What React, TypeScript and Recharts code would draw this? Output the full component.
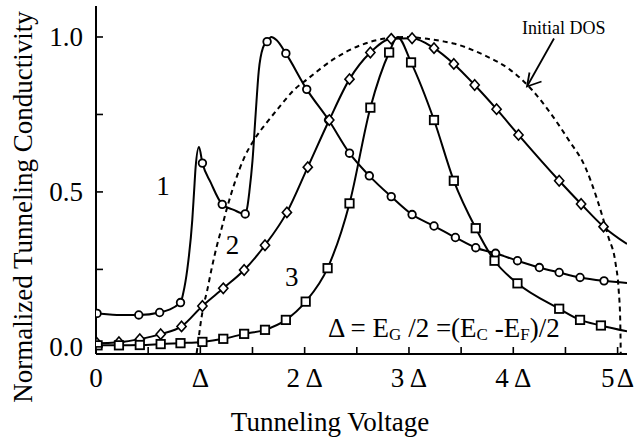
import React from 'react';
import { ComposedChart, Line, Scatter, XAxis, YAxis } from 'recharts';

// ---------- axis ticks ----------
const xTicks = [0, 0.5, 1, 1.5, 2, 2.5, 3, 3.5, 4, 4.5, 5];
const xMajorTicks = [0, 1, 2, 3, 4, 5];
const xMajorLabels = ['0', '\u0394', '2\u2009\u0394', '3\u2009\u0394', '4\u2009\u0394', '5\u200A\u0394'];
const yTicks = [0, 0.25, 0.5, 0.75, 1];
const yMajorTicks = [0, 0.5, 1];
const yMajorLabels = ['0.0', '0.5', '1.0'];

// ---------- curve 1 (circles) ----------
const curve1Markers = [
  { x: 0.01, y: 0.108 }, { x: 0.41, y: 0.103 }, { x: 0.61, y: 0.111 }, { x: 0.81, y: 0.143 },
  { x: 1.02, y: 0.593 }, { x: 1.21, y: 0.46 }, { x: 1.43, y: 0.429 }, { x: 1.64, y: 0.985 },
  { x: 1.82, y: 0.947 }, { x: 2.02, y: 0.831 }, { x: 2.23, y: 0.732 }, { x: 2.43, y: 0.625 },
  { x: 2.62, y: 0.552 }, { x: 2.83, y: 0.485 }, { x: 3.03, y: 0.427 }, { x: 3.24, y: 0.39 },
  { x: 3.445, y: 0.353 }, { x: 3.64, y: 0.32 }, { x: 3.83, y: 0.302 }, { x: 4.04, y: 0.278 },
  { x: 4.25, y: 0.256 }, { x: 4.44, y: 0.24 }, { x: 4.64, y: 0.224 }, { x: 4.87, y: 0.213 },
];
const curve1Extra = [
  { x: 0, y: 0.108 }, { x: 0.2, y: 0.103 }, { x: 0.836, y: 0.173 }, { x: 0.875, y: 0.25 },
  { x: 0.923, y: 0.41 }, { x: 0.94, y: 0.5 }, { x: 0.955, y: 0.58 }, { x: 0.987, y: 0.645 },
  { x: 1.1, y: 0.53 }, { x: 1.32, y: 0.442 }, { x: 1.45, y: 0.45 }, { x: 1.47, y: 0.5 },
  { x: 1.5, y: 0.6 }, { x: 1.53, y: 0.75 }, { x: 1.56, y: 0.89 }, { x: 1.6, y: 0.965 },
  { x: 1.68, y: 1.0 }, { x: 1.73, y: 0.99 }, { x: 5.09, y: 0.206 },
];

// ---------- curve 2 (diamonds) ----------
const curve2Markers = [
  { x: 0.01, y: 0.012 }, { x: 0.22, y: 0.015 }, { x: 0.42, y: 0.025 }, { x: 0.62, y: 0.041 },
  { x: 0.82, y: 0.066 }, { x: 1.02, y: 0.132 }, { x: 1.22, y: 0.189 }, { x: 1.42, y: 0.248 },
  { x: 1.62, y: 0.328 }, { x: 1.83, y: 0.434 }, { x: 2.03, y: 0.58 }, { x: 2.236, y: 0.732 },
  { x: 2.43, y: 0.864 }, { x: 2.63, y: 0.95 }, { x: 2.83, y: 0.994 }, { x: 3.03, y: 0.996 },
  { x: 3.24, y: 0.964 }, { x: 3.43, y: 0.913 }, { x: 3.63, y: 0.845 }, { x: 3.84, y: 0.767 },
  { x: 4.05, y: 0.684 }, { x: 4.44, y: 0.536 }, { x: 4.65, y: 0.461 }, { x: 4.865, y: 0.388 },
];
const curve2Extra = [{ x: 0, y: 0.012 }, { x: 5.09, y: 0.332 }];

// ---------- curve 3 (squares) ----------
const curve3Markers = [
  { x: 0.015, y: 0.005 }, { x: 0.22, y: 0.005 }, { x: 0.42, y: 0.006 }, { x: 0.62, y: 0.009 },
  { x: 0.81, y: 0.012 }, { x: 1.02, y: 0.016 }, { x: 1.22, y: 0.026 }, { x: 1.42, y: 0.042 },
  { x: 1.62, y: 0.055 }, { x: 1.82, y: 0.087 }, { x: 2.01, y: 0.146 }, { x: 2.22, y: 0.254 },
  { x: 2.43, y: 0.463 }, { x: 2.63, y: 0.772 }, { x: 2.81, y: 0.95 }, { x: 3.02, y: 0.918 },
  { x: 3.24, y: 0.732 }, { x: 3.43, y: 0.536 }, { x: 3.64, y: 0.383 }, { x: 3.82, y: 0.278 },
  { x: 4.04, y: 0.205 }, { x: 4.44, y: 0.123 }, { x: 4.64, y: 0.087 }, { x: 4.84, y: 0.069 },
];
const curve3Extra = [{ x: 0, y: 0.005 }, { x: 2.89, y: 1.0 }, { x: 5.09, y: 0.05 }];

// ---------- initial DOS (dashed) ----------
const dosPoints = [
  { x: 0.965, y: -0.02 }, { x: 0.985, y: 0.03 }, { x: 1.003, y: 0.076 }, { x: 1.03, y: 0.13 },
  { x: 1.067, y: 0.184 }, { x: 1.11, y: 0.255 }, { x: 1.157, y: 0.324 }, { x: 1.21, y: 0.39 },
  { x: 1.26, y: 0.453 }, { x: 1.33, y: 0.53 }, { x: 1.42, y: 0.61 }, { x: 1.515, y: 0.668 },
  { x: 1.64, y: 0.725 }, { x: 1.772, y: 0.78 }, { x: 1.9, y: 0.83 }, { x: 2.03, y: 0.865 },
  { x: 2.285, y: 0.93 }, { x: 2.54, y: 0.974 }, { x: 2.75, y: 0.994 }, { x: 2.95, y: 1.0 },
  { x: 3.15, y: 0.995 }, { x: 3.34, y: 0.985 }, { x: 3.44, y: 0.978 }, { x: 3.63, y: 0.955 },
  { x: 3.73, y: 0.94 }, { x: 3.97, y: 0.894 }, { x: 4.18, y: 0.829 }, { x: 4.37, y: 0.748 },
  { x: 4.53, y: 0.668 }, { x: 4.69, y: 0.58 }, { x: 4.8, y: 0.48 }, { x: 4.91, y: 0.356 },
  { x: 4.98, y: 0.27 }, { x: 5.01, y: 0.184 }, { x: 5.025, y: 0.087 }, { x: 5.03, y: -0.02 },
];

const byX = (a: { x: number }, b: { x: number }) => a.x - b.x;
const curve1Line = [...curve1Markers, ...curve1Extra].sort(byX);
const curve2Line = [...curve2Markers, ...curve2Extra].sort(byX);
const curve3Line = [...curve3Markers, ...curve3Extra].sort(byX);

const FONT = "'Liberation Serif', 'DejaVu Serif', serif";
const serif = { fontFamily: FONT };
const TICK_LEN = 7;

const BottomTick = (props: any) => {
  const { x, y, payload } = props;
  const i = xMajorTicks.indexOf(payload.value);
  return (
    <g>
      <line x1={x} x2={x} y1={y} y2={y - TICK_LEN} stroke="#000" strokeWidth={1.6} />
      {i >= 0 && (
        <text x={x} y={y + 33} textAnchor="middle" style={serif} fontSize={27} fill="#000">
          {xMajorLabels[i]}
        </text>
      )}
    </g>
  );
};
const TopTick = (props: any) => {
  const { x, y } = props;
  return <line x1={x} x2={x} y1={y} y2={y + TICK_LEN} stroke="#000" strokeWidth={1.6} />;
};
const LeftTick = (props: any) => {
  const { x, y, payload } = props;
  const i = yMajorTicks.indexOf(payload.value);
  return (
    <g>
      <line x1={x} x2={x + TICK_LEN} y1={y} y2={y} stroke="#000" strokeWidth={1.6} />
      {i >= 0 && (
        <text x={x - 13} y={y + 9} textAnchor="end" style={serif} fontSize={27} fill="#000">
          {yMajorLabels[i]}
        </text>
      )}
    </g>
  );
};
const RightTick = (props: any) => {
  const { x, y } = props;
  return <line x1={x} x2={x - TICK_LEN} y1={y} y2={y} stroke="#000" strokeWidth={1.6} />;
};

const CircleDot = (p: any) =>
  p.cx == null ? null : <circle cx={p.cx} cy={p.cy} r={3.8} fill="#fff" stroke="#000" strokeWidth={1.8} />;
const SquareDot = (p: any) =>
  p.cx == null ? null : (
    <rect x={p.cx - 4.2} y={p.cy - 4.2} width={8.4} height={8.4} fill="#fff" stroke="#000" strokeWidth={1.8} />
  );
const DiamondDot = (p: any) =>
  p.cx == null ? null : (
    <path
      d={`M${p.cx},${p.cy - 5.2}L${p.cx + 4.6},${p.cy}L${p.cx},${p.cy + 5.2}L${p.cx - 4.6},${p.cy}Z`}
      fill="#fff"
      stroke="#000"
      strokeWidth={1.6}
    />
  );

const axisLine = { stroke: '#000', strokeWidth: 2 };

export default function App() {
  return (
    <div style={{ position: 'absolute', left: 0, top: 0, width: 634, height: 441, background: '#fff' }}>
      <ComposedChart width={634} height={441} margin={{ top: 6, right: 7, bottom: 0, left: 0 }}>
        <XAxis
          xAxisId="b"
          dataKey="x"
          type="number"
          orientation="bottom"
          domain={[0, 5.09]}
          ticks={xTicks}
          interval={0}
          height={87}
          tickSize={0}
          tickMargin={0}
          tickLine={false}
          axisLine={axisLine}
          tick={<BottomTick />}
          allowDataOverflow
        />
        <XAxis
          xAxisId="t"
          dataKey="x"
          type="number"
          orientation="top"
          domain={[0, 5.09]}
          ticks={xTicks}
          interval={0}
          height={0}
          tickSize={0}
          tickMargin={0}
          tickLine={false}
          axisLine={axisLine}
          tick={<TopTick />}
          allowDataOverflow
        />
        <YAxis
          yAxisId="l"
          dataKey="y"
          type="number"
          orientation="left"
          domain={[-0.023, 1.1]}
          ticks={yTicks}
          interval={0}
          width={96}
          tickSize={0}
          tickMargin={0}
          tickLine={false}
          axisLine={axisLine}
          tick={<LeftTick />}
          allowDataOverflow
        />
        <YAxis
          yAxisId="r"
          dataKey="y"
          type="number"
          orientation="right"
          domain={[-0.023, 1.1]}
          ticks={yTicks}
          interval={0}
          width={0}
          tickSize={0}
          tickMargin={0}
          tickLine={false}
          axisLine={axisLine}
          tick={<RightTick />}
          allowDataOverflow
        />
        <Line
          xAxisId="b"
          yAxisId="l"
          data={dosPoints}
          dataKey="y"
          type="monotone"
          stroke="#000"
          strokeWidth={2}
          strokeDasharray="5 4"
          dot={false}
          activeDot={false}
          isAnimationActive={false}
        />
        <Line
          xAxisId="b"
          yAxisId="l"
          data={curve1Line}
          dataKey="y"
          type="monotone"
          stroke="#000"
          strokeWidth={2}
          dot={false}
          activeDot={false}
          isAnimationActive={false}
        />
        <Line
          xAxisId="b"
          yAxisId="l"
          data={curve2Line}
          dataKey="y"
          type="monotone"
          stroke="#000"
          strokeWidth={2}
          dot={false}
          activeDot={false}
          isAnimationActive={false}
        />
        <Line
          xAxisId="b"
          yAxisId="l"
          data={curve3Line}
          dataKey="y"
          type="monotone"
          stroke="#000"
          strokeWidth={2}
          dot={false}
          activeDot={false}
          isAnimationActive={false}
        />
        <Scatter xAxisId="b" yAxisId="l" data={curve1Markers} dataKey="y" shape={CircleDot} isAnimationActive={false} />
        <Scatter xAxisId="b" yAxisId="l" data={curve2Markers} dataKey="y" shape={DiamondDot} isAnimationActive={false} />
        <Scatter xAxisId="b" yAxisId="l" data={curve3Markers} dataKey="y" shape={SquareDot} isAnimationActive={false} />
      </ComposedChart>
      <svg
        width={634}
        height={441}
        style={{ position: 'absolute', left: 0, top: 0, pointerEvents: 'none', fontFamily: FONT }}
      >
        <text x={32} y={207} transform="rotate(-90 32 207)" textAnchor="middle" style={serif} fontSize={27} fill="#000">
          Normalized Tunneling Conductivity
        </text>
        <text x={330} y={431} textAnchor="middle" style={serif} fontSize={27} fill="#000">
          Tunneling Voltage
        </text>
        <text x={163} y={195} textAnchor="middle" style={serif} fontSize={27} fill="#000">1</text>
        <text x={232.5} y={254} textAnchor="middle" style={serif} fontSize={27} fill="#000">2</text>
        <text x={291.7} y={286} textAnchor="middle" style={serif} fontSize={27} fill="#000">3</text>
        <text x={522} y={34} style={serif} fontSize={18} fill="#000">Initial DOS</text>
        <line x1={554} y1={38.5} x2={527.5} y2={85.5} stroke="#000" strokeWidth={1.8} />
        <path d="M529.5,72.5 L527,86.5 L541.5,81.5" fill="none" stroke="#000" strokeWidth={1.8} />
        <text x={328} y={337} style={serif} fontSize={27} fill="#000">
          {'\u0394 = E'}
          <tspan fontSize={17} dy={3}>G</tspan>
          <tspan dy={-3}>{' /2 =(E'}</tspan>
          <tspan fontSize={17} dy={3}>C</tspan>
          <tspan dy={-3}>{' -E'}</tspan>
          <tspan fontSize={17} dy={3}>F</tspan>
          <tspan dy={-3}>{')/2'}</tspan>
        </text>
      </svg>
    </div>
  );
}
